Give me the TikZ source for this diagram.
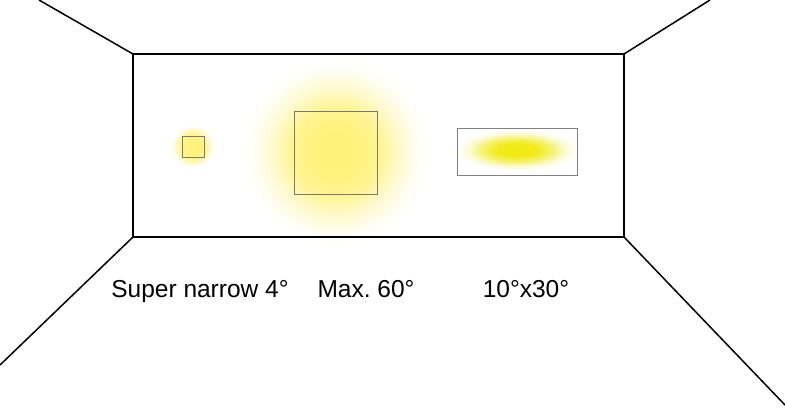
\documentclass[tikz,border=0pt]{standalone}
\usepackage{fontspec}
\setmainfont{Liberation Sans}
\frenchspacing
\definecolor{yl}{HTML}{FFF06E}
\definecolor{ylb}{HTML}{F0EA10}
\definecolor{frame}{HTML}{7A7A6A}
\pgfdeclareradialshading{bigglow}{\pgfpointorigin}{color(0bp)=(yl!95); color(7bp)=(yl!88); color(12bp)=(yl!72); color(17bp)=(yl!32); color(22bp)=(yl!6); color(25bp)=(white); color(50bp)=(white)}
\pgfdeclareradialshading{smallglow}{\pgfpointorigin}{color(0bp)=(yl!90); color(12bp)=(yl!85); color(18bp)=(yl!45); color(24bp)=(white); color(50bp)=(white)}
\pgfdeclareradialshading{ellglow}{\pgfpointorigin}{color(0bp)=(ylb); color(8bp)=(ylb!95); color(14bp)=(ylb!60); color(20bp)=(ylb!15); color(25bp)=(white); color(50bp)=(white)}
\begin{document}
\begin{tikzpicture}[x=1bp,y=-1bp,
  room/.style={draw=black,line width=1.5bp},
  lamp/.style={draw=frame,line width=1bp},
  label/.style={anchor=base,inner sep=0pt,font=\fontsize{24.5bp}{28bp}\selectfont}]
\useasboundingbox (0,0) rectangle (785,415);
% room corners
\coordinate (tl) at (133,54);
\coordinate (tr) at (624,54);
\coordinate (bl) at (133,237);
\coordinate (br) at (624,237);
\coordinate (otl) at (39,0);
\coordinate (otr) at (710,0);
\coordinate (obl) at (0,365);
\coordinate (obr) at (785,405);
% glows
\shade[shading=bigglow] (336,152) circle[radius=95];
\shade[shading=smallglow] (193,146.5) circle[radius=22];
\shade[shading=ellglow] (517,150) ellipse[x radius=62,y radius=21];
% lamps
\draw[lamp] (182,136) rectangle (204,157);
\draw[lamp] (294,111) rectangle (377,194);
\draw[lamp,draw=gray] (457,128) rectangle (577,175);
% room
\draw[room] (tl) rectangle (br);
\draw[room] (otl) -- (tl);
\draw[room] (otr) -- (tr);
\draw[room] (obl) -- (bl);
\draw[room] (obr) -- (br);
% labels
\node[label] (l1) at (200,297) {Super narrow 4°};
\node[label] (l2) at (366,297) {Max. 60°};
\node[label] (l3) at (526,297) {10°x30°};
\end{tikzpicture}
\end{document}
